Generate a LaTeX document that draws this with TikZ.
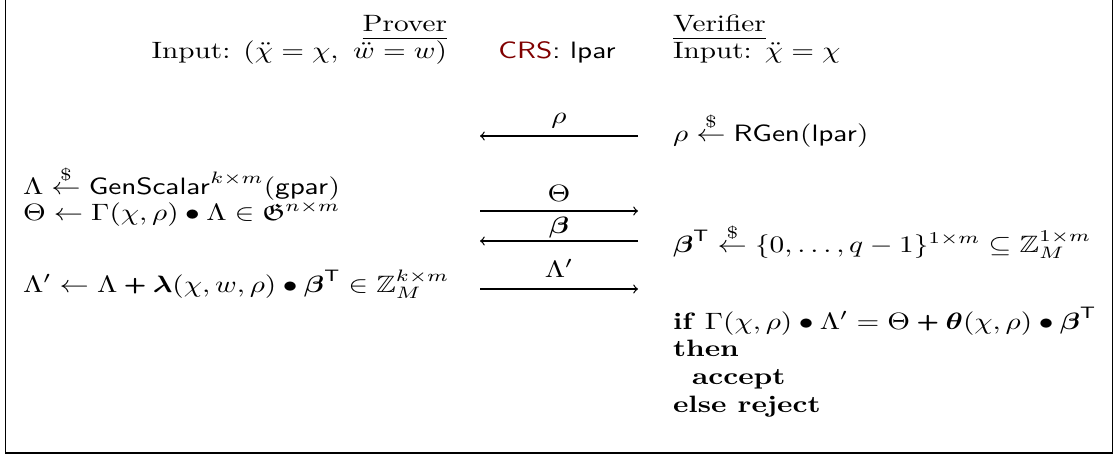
\documentclass[tikz,border=0pt]{standalone}
\usepackage{amsmath,amssymb}
\definecolor{crsred}{RGB}{128,0,0}
\newcommand{\stx}[1]{\scalebox{1.36}[1.1]{#1}}
\newcommand{\rnd}{\stackrel{\$}{\leftarrow}}
\newcommand{\bplus}{\mathbin{\raisebox{0.2pt}{\scalebox{0.9}{\textsf{\textbf{+}}}}}}
\begin{document}
\begin{tikzpicture}[x=0.465pt, y=-0.465pt,
  txt/.style={inner sep=0pt, outer sep=0pt},
  msg/.style={line width=0.6pt},
  lbl/.style={inner sep=0pt, outer sep=0pt, midway, above=#1},
  lbl/.default=2.3pt,
  hrule/.style={line width=0.6pt},
  frame/.style={line width=0.9pt}]
\useasboundingbox (0,0) rectangle (1115,457);
\draw[frame] (5.5,-5) -- (5.5,452.7) -- (1112.5,452.7) -- (1112.5,-5);

% headers
\node[txt, anchor=base east] (prov) at (447,31) {\stx{Prover}};
\draw[hrule] ([yshift=-3.4pt]prov.base west) -- ([yshift=-3.4pt]prov.base east);
\node[txt, anchor=base east] (pin) at (447,58) {\stx{Input: $(\ddot{\chi}=\chi,\ \ddot{w}=w)$}};
\node[txt, anchor=base] (crs) at (557,58) {\stx{\textsf{\textcolor{crsred}{CRS}: lpar}}};
\node[txt, anchor=base west] (ver) at (673,31) {\stx{Verifier}};
\draw[hrule] ([yshift=-3.4pt]ver.base west) -- ([yshift=-3.4pt]ver.base east);
\node[txt, anchor=base west] (vin) at (673,58) {\stx{Input: $\ddot{\chi}=\chi$}};

% messages
\coordinate (rhoL) at (480,136);   \coordinate (rhoR) at (638,136);
\coordinate (thL) at (480,211);    \coordinate (thR) at (638,211);
\coordinate (beL) at (480,241);    \coordinate (beR) at (638,241);
\coordinate (laL) at (480,289);    \coordinate (laR) at (638,289);
\draw[msg,->] (rhoR) -- (rhoL) node[lbl=3.5pt] {\stx{$\rho$}};
\draw[msg,->] (thL) -- (thR) node[lbl=4.5pt] {\stx{$\Theta$}};
\draw[msg,->] (beR) -- (beL) node[lbl=1.5pt] {\stx{$\boldsymbol{\beta}$}};
\draw[msg,->] (laL) -- (laR) node[lbl=5.5pt] {\stx{$\Lambda'$}};

% prover
\node[txt, anchor=base west] (p1) at (23,194) {\stx{$\Lambda \rnd \mathsf{GenScalar}^{k\times m}(\mathsf{gpar})$}};
\node[txt, anchor=base west] (p2) at (23,220) {\stx{$\Theta \leftarrow \Gamma(\chi,\rho)\bullet\Lambda \in \mathfrak{G}^{n\times m}$}};
\node[txt, anchor=base west] (p3) at (23,292) {\stx{$\Lambda' \leftarrow \Lambda \bplus \boldsymbol{\lambda}(\chi,w,\rho)\bullet\boldsymbol{\beta}^{\mathsf{T}} \in \mathbb{Z}_M^{k\times m}$}};

% verifier
\node[txt, anchor=base west] (v1) at (673,141) {\stx{$\rho \rnd \mathsf{RGen}(\mathsf{lpar})$}};
\node[txt, anchor=base west] (v2) at (673,252) {\stx{$\boldsymbol{\beta}^{\mathsf{T}} \rnd \{0,\dots,q-1\}^{1\times m} \subseteq \mathbb{Z}_M^{1\times m}$}};
\node[txt, anchor=base west] (v3) at (673,329) {\stx{\textbf{if} $\Gamma(\chi,\rho)\bullet\Lambda' = \Theta \bplus \boldsymbol{\theta}(\chi,\rho)\bullet\boldsymbol{\beta}^{\mathsf{T}}$}};
\node[txt, anchor=base west] (v4) at (673,356) {\stx{\textbf{then}}};
\node[txt, anchor=base west] (v5) at (692,384) {\stx{\textbf{accept}}};
\node[txt, anchor=base west] (v6) at (673,412) {\stx{\textbf{else reject}}};
\end{tikzpicture}
\end{document}
